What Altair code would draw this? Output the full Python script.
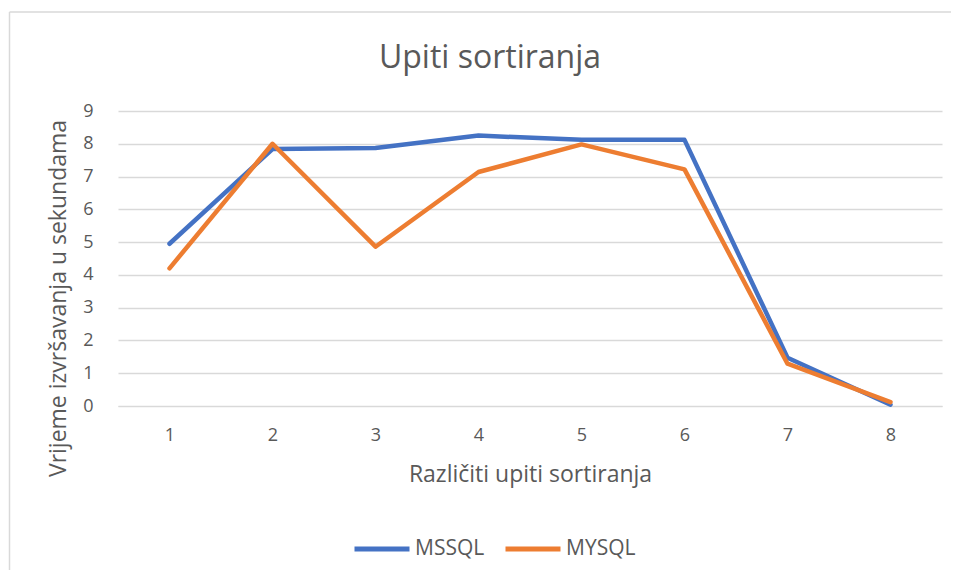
import altair as alt
import pandas as pd

categories = ["1", "2", "3", "4", "5", "6", "7", "8"]
mssql = [4.95, 7.84, 7.87, 8.25, 8.12, 8.12, 1.47, 0.04]
mysql = [4.20, 8.00, 4.86, 7.14, 7.98, 7.22, 1.29, 0.12]
series_names = ["MSSQL", "MYSQL"]
colors = ["#4472C4", "#ED7D31"]

rows = []
for i, c in enumerate(categories):
    rows.append({"upit": c, "serija": "MSSQL", "vrijeme": mssql[i], "ord": 0})
    rows.append({"upit": c, "serija": "MYSQL", "vrijeme": mysql[i], "ord": 1})
df = pd.DataFrame(rows)

FONT = "Open Sans"
TXT = "#595959"

lines = alt.Chart(df).mark_line(strokeWidth=4.5, strokeCap="round", strokeJoin="round").encode(
    x=alt.X("upit:O", sort=categories, scale=alt.Scale(padding=0.5),
            axis=alt.Axis(title="Različiti upiti sortiranja", labelAngle=0, ticks=False,
                          domain=True, domainColor="#D9D9D9", labelPadding=20,
                          titlePadding=19)),
    y=alt.Y("vrijeme:Q", scale=alt.Scale(domain=[0, 9], nice=False),
            axis=alt.Axis(title="Vrijeme izvršavanja u sekundama", values=list(range(10)),
                          ticks=False, domain=False, labelPadding=25, titlePadding=12,
                          titleY=187,
                          gridColor="#D9D9D9", gridWidth=1.3)),
    color=alt.Color("serija:N", scale=alt.Scale(domain=series_names, range=colors),
                    legend=alt.Legend(title=None, orient="none", legendX=234, legendY=408,
                                      direction="horizontal", symbolType="stroke",
                                      symbolSize=3025, symbolStrokeWidth=5,
                                      labelFontSize=21, labelFont=FONT, labelColor=TXT,
                                      labelOffset=3, columnPadding=10, padding=0)),
    order="ord:Q",
)

frame_data = alt.Data(values=[{"a": 1}])
left_rule = alt.Chart(frame_data).mark_rule(color="#D9D9D9", strokeWidth=1.5).encode(
    x=alt.value(-108.5), y=alt.value(-99), y2=alt.value(470))
top_rule = alt.Chart(frame_data).mark_rule(color="#D9D9D9", strokeWidth=1.5).encode(
    x=alt.value(-108.5), x2=alt.value(840), y=alt.value(-99))

chart = alt.layer(left_rule, top_rule, lines).properties(
    width=824, height=295,
    background="white",
    title=alt.TitleParams("Upiti sortiranja", fontSize=32, font=FONT, color=TXT,
                          fontWeight="normal", offset=0, dy=64, dx=-40, anchor="middle"),
    autosize=alt.AutoSizeParams(type="none"),
    padding={"left": 110, "top": 103, "right": 9, "bottom": 164},
).configure_view(stroke=None).configure_axis(
    labelFont=FONT, labelFontSize=18, labelColor=TXT,
    titleFont=FONT, titleFontSize=23, titleColor=TXT, titleFontWeight="normal",
)

chart.save("out.html", embed_options={"renderer": "svg", "actions": False})
